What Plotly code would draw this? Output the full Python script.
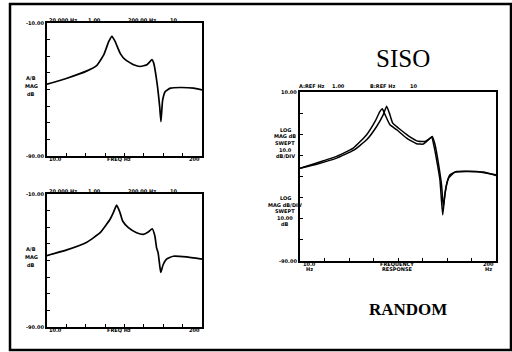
import plotly.graph_objects as go

W, H = 512, 352

# Measured frequency responses (relative frequency 0-100, level 0-100)
freq_a = [0, 12.9, 25.8, 32, 36.6, 39.8, 41.9, 44, 47.3, 50.5, 55.9, 60.2, 64.5, 67.7,
          68.8, 71, 72.7, 73.5, 74.6, 76.3, 79.6, 86, 94.6, 100]
mag_a = [54, 58.5, 64, 68, 76, 86, 90, 86, 77, 72.4, 68.6, 67.3, 68.6, 72.4,
         70, 54.8, 37, 25.9, 42, 48.5, 51, 51.5, 51, 49.7]

freq_b = [0, 12.8, 25.7, 34.3, 40.7, 42.8, 44.9, 47.1, 48.8, 52.5, 57.8, 62.1, 65.3, 67.9,
          69.6, 70.7, 71.7, 72.8, 73.4, 74.9, 77.1, 81.4, 89.9, 100]
mag_b = [53.7, 58, 63.8, 70.9, 81, 86, 91.6, 86, 79.7, 74.7, 70.9, 69.6, 71.4, 73.9,
         68.4, 59.5, 55.7, 45.6, 41, 46.8, 51.1, 53.2, 52.7, 51]

# SISO comparison: two overlaid responses
freq_s1 = [0, 8.5, 18.7, 27.2, 34, 38.3, 40.8, 42, 43.4, 45.9, 49.3, 54.4, 59.5, 62.9,
           65.5, 67.2, 68.4, 69.7, 71.4, 72.8, 74, 75.7, 79.1, 85, 93.5, 100]
mag_s1 = [54.9, 58, 61.9, 66.8, 74.7, 82.6, 88.5, 90.1, 86.6, 80.6, 77.7, 72.7, 69.4, 69.2,
          71.7, 73.3, 67.8, 59.9, 48, 27.3, 40, 48.8, 52.6, 53, 52.6, 50.6]
freq_s2 = [0, 8.5, 18.7, 27.2, 34, 39.1, 42.5, 44.2, 45.6, 47.3, 50.2, 55.3, 60.4, 63.8,
           66.3, 67.5, 68.9, 70.6, 72.3, 73.1, 74.5, 76.5, 79.9, 90.1, 100]
mag_s2 = [54.9, 57.3, 60.9, 65.4, 71.7, 79.6, 86.6, 91.5, 87.5, 81.6, 78.7, 74.1, 70.8, 70.8,
          72.7, 73.7, 68.8, 57.9, 44.1, 32.2, 44, 51, 53, 53, 51]

top_labels = ["20.000 Hz", "1.00", "200.00 Hz", "10"]
bottom_labels = ["START", "FREQ Hz", "STOP"]

def px(x):
    return x / W

def py(y):
    return 1 - y / H

# panel boxes in pixels: (left, right, top, bottom)
panels = {
    "1": (47, 202, 23, 156),
    "2": (47, 202, 194, 327),
    "3": (300, 496, 92, 261),
}

fig = go.Figure()
def curve(x, y, xa, ya, width=1.7):
    fig.add_trace(go.Scatter(x=x, y=y, mode="lines", xaxis=xa, yaxis=ya,
                             line=dict(color="black", width=width, shape="spline", smoothing=0.4)))

curve(freq_a, mag_a, "x", "y")
curve(freq_b, mag_b, "x2", "y2")
curve(freq_s1, mag_s1, "x3", "y3", 1.5)
curve(freq_s2, mag_s2, "x3", "y3", 1.5)

layout = dict(
    width=W, height=H, margin=dict(l=0, r=0, t=0, b=0),
    paper_bgcolor="white", plot_bgcolor="white", showlegend=False,
)
axis_common = dict(showline=True, linecolor="black", linewidth=2, mirror=True,
                   showgrid=False, zeroline=False, showticklabels=False,
                   ticks="inside", ticklen=3, tickwidth=1, tickcolor="black")
for k, (l, r, t, b) in panels.items():
    xa = "xaxis" if k == "1" else f"xaxis{k}"
    ya = "yaxis" if k == "1" else f"yaxis{k}"
    yname = "y" if k == "1" else f"y{k}"
    xname = "x" if k == "1" else f"x{k}"
    layout[xa] = dict(axis_common, domain=[px(l), px(r)], range=[0, 100], dtick=12.5,
                      anchor=yname)
    layout[ya] = dict(axis_common, domain=[py(b), py(t)], range=[0, 100], dtick=12.5,
                      anchor=xname)
fig.update_layout(**layout)

ann = []

def text(x, y, s, size=5, xanchor="center", font="DejaVu Sans", bold=True):
    ann.append(dict(x=px(x), y=py(y), xref="paper", yref="paper", text=(f"<b>{s}</b>" if bold else s),
                    showarrow=False, xanchor=xanchor, yanchor="middle",
                    font=dict(size=size, color="black", family=font)))

# small instrument annotations around the two left panels
for (l, r, t, b) in (panels["1"], panels["2"]):
    text(l + 16, t - 3, top_labels[0])
    text(l + 47, t - 3, top_labels[1])
    text(l + 95, t - 3, top_labels[2])
    text(l + 126, t - 3, top_labels[3])
    text(l - 1, t, "-10.00", xanchor="right")
    text(l - 1, b, "-90.00", xanchor="right")
    text(l - 16, t + 55, "A/B", size=5)
    text(l - 16, t + 63, "MAG", size=5)
    text(l - 16, t + 71, "dB", size=5)
    text(l + 8, b + 3, "10.0")
    text(l + 72, b + 3, "FREQ Hz")
    text(r - 8, b + 3, "200")

# annotations around the SISO panel
l, r, t, b = panels["3"]
text(l + 12, t - 6, "A:REF Hz")
text(l + 38, t - 6, "1.00")
text(l + 82, t - 6, "B:REF Hz")
text(l + 113, t - 6, "10")
text(l - 1, t, "10.00", xanchor="right")
text(l - 1, b, "-90.00", xanchor="right")
for i, s in enumerate(["LOG", "MAG dB", "SWEPT", "10.0", "dB/DIV"]):
    text(l - 15, t + 38 + i * 6.5, s, size=5)
for i, s in enumerate(["LOG", "MAG dB/DIV", "SWEPT", "10.00", "dB"]):
    text(l - 15, t + 106 + i * 6.5, s, size=5)
text(l + 9, b + 3, "10.0")
text(l + 9, b + 8, "Hz")
text(l + 97, b + 3, "FREQUENCY")
text(l + 97, b + 8, "RESPONSE")
text(r - 8, b + 3, "200")
text(r - 8, b + 8, "Hz")

# titles
ann.append(dict(x=px(403), y=py(58), xref="paper", yref="paper", text="SISO", showarrow=False,
                xanchor="center", yanchor="middle",
                font=dict(size=25, color="black", family="Liberation Serif")))
ann.append(dict(x=px(408), y=py(309), xref="paper", yref="paper", text="<b>RANDOM</b>",
                showarrow=False, xanchor="center", yanchor="middle",
                font=dict(size=17, color="black", family="Liberation Serif")))
fig.update_layout(annotations=ann)

# outer frame
fig.add_shape(type="rect", xref="paper", yref="paper", x0=px(10), x1=px(511), y0=py(350), y1=py(4),
              line=dict(color="black", width=2.5))

fig.write_html("out.html")
